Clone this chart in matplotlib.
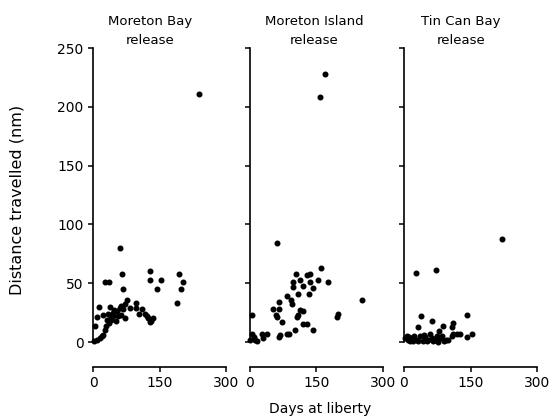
import matplotlib
matplotlib.use("Agg")
import matplotlib.pyplot as plt

# ---- data (days at liberty, distance travelled nm) ----
mb_days = [239, 61, 28, 36, 65, 68, 129, 129, 153, 144, 195, 202, 198, 189, 76, 97,
           14, 10, 4, 23, 38, 31, 35, 41, 44, 48, 61, 64, 68, 72, 57, 64, 72, 83, 98,
           104, 110, 117, 121, 125, 130, 135, 129, 27, 23, 16, 10, 20, 2, 30, 45, 52,
           33, 40, 55]
mb_dist = [211, 80, 51, 51, 58, 45, 60, 53, 53, 45, 58, 51, 45, 33, 36, 33,
           30, 21, 14, 23, 30, 19, 16, 19, 22, 27, 29, 31, 28, 32, 22, 23, 20, 29, 29,
           24, 28, 24, 22, 20, 18, 20, 17, 10, 6, 3, 2, 5, 1, 14, 25, 18,
           24, 21, 26]

mi_days = [169, 158, 62, 103, 128, 135, 160, 154, 175, 113, 135, 120, 142, 98, 96,
           108, 133, 83, 92, 94, 66, 52, 66, 59, 60, 72, 113, 120, 109, 105, 120, 128,
           102, 142, 83, 89, 68, 66, 198, 197, 252, 38, 26, 30, 4, 8, 11, 0, 15, 4]
mi_dist = [228, 208, 84, 58, 57, 58, 63, 53, 51, 53, 51, 48, 46, 51, 47,
           41, 41, 39, 36, 32, 34, 28, 28, 23, 21, 17, 27, 26, 23, 21, 15, 15,
           10, 10, 7, 7, 6, 4, 24, 21, 36, 7, 7, 3, 7, 4, 2, 2, 1, 23]

tc_days = [220, 26, 72, 38, 142, 64, 31, 87, 110, 108, 153, 143, 120, 126, 111, 108,
           79, 81, 76, 59, 63, 55, 8, 12, 17, 23, 29, 36, 42, 47, 70, 95, 85, 14, 6,
           21, 32, 51, 66, 74, 2, 45, 90, 100]
tc_dist = [88, 59, 61, 22, 23, 18, 13, 14, 16, 13, 7, 4, 7, 7, 7, 5,
           9, 3, 0, 7, 3, 2, 2, 4, 2, 5, 2, 5, 1, 4, 2, 2, 5, 1, 5,
           1, 1, 1, 1, 5, 3, 6, 1, 2]

titles = ["Moreton Bay\nrelease", "Moreton Island\nrelease", "Tin Can Bay\nrelease"]
title_x = [150, 314, 461]
xticks = [0, 150, 300]
yticks = [0, 50, 100, 150, 200, 250]

W, H = 554, 418
fig = plt.figure(figsize=(W / 100, H / 100), dpi=100)
plt.rcParams['font.family'] = ['DejaVu Sans']

lefts = [93, 250, 404]
aw = 133
bottom = 342
top = 48
series = [(mb_days, mb_dist), (mi_days, mi_dist), (tc_days, tc_dist)]

for i, (l, (dx, dy)) in enumerate(zip(lefts, series)):
    ax = fig.add_axes([l / W, 1 - bottom / H, aw / W, (bottom - top) / H])
    ax.plot(dx, dy, 'o', color='black', ms=3.3, mec='black', clip_on=False)
    ax.set_xlim(0, 300)
    ax.set_ylim(0, 250)
    for s in ['top', 'right']:
        ax.spines[s].set_visible(False)
    ax.spines['bottom'].set_position(('outward', 18))
    for s in ['left', 'bottom']:
        ax.spines[s].set_linewidth(1.2)
    ax.set_xticks(xticks)
    ax.set_yticks(yticks)
    ax.tick_params(length=3.8, width=1.1, labelsize=10, pad=3)
    if i > 0:
        ax.set_yticklabels([])
    fig.text(title_x[i] / W, 1 - 31 / H, titles[i], ha='center', va='center',
             fontsize=9.5, linespacing=1.6)

fig.text(17 / W, 1 - 200 / H, "Distance travelled (nm)", rotation=90,
         ha='center', va='center', fontsize=11.5)
fig.text(320 / W, 1 - 409 / H, "Days at liberty", ha='center', va='center',
         fontsize=10)

fig.savefig("out.png", dpi=100)
